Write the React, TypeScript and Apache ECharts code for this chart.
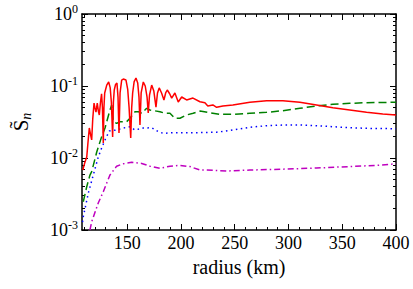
import React, { useEffect, useRef } from "react";
import * as echarts from "echarts";

// [radius (km), S_n]
const redData: [number, number][] = [
  [108.7, 0.0068], [110.5, 0.0085], [112.4, 0.0103], [113.5, 0.016], [114.8, 0.0261],
  [116.0, 0.021], [117.0, 0.0178], [118.0, 0.035], [119.2, 0.058], [120.0, 0.05],
  [121.0, 0.0435], [122.2, 0.058], [123.2, 0.045], [124.1, 0.0396], [125.2, 0.06],
  [126.2, 0.078], [127.0, 0.05], [127.8, 0.0162], [128.4, 0.05], [129.1, 0.080],
  [131.0, 0.103], [132.8, 0.1137], [134.2, 0.095], [135.3, 0.06], [136.5, 0.0196],
  [137.2, 0.06], [138.0, 0.088], [139.2, 0.105], [140.5, 0.110], [141.5, 0.07],
  [142.4, 0.0222], [143.4, 0.08], [144.9, 0.121], [146.4, 0.125], [148.9, 0.121],
  [150.5, 0.09], [151.8, 0.05], [153.3, 0.019], [154.2, 0.05], [155.1, 0.080],
  [156.5, 0.115], [158.2, 0.129], [159.8, 0.11], [161.0, 0.07], [161.9, 0.0287],
  [163.0, 0.08], [165.0, 0.1137], [166.8, 0.1], [168.5, 0.07], [169.6, 0.0422],
  [170.8, 0.075], [172.8, 0.103], [174.8, 0.085], [176.8, 0.051], [178.2, 0.08],
  [179.8, 0.094], [182.0, 0.08], [184.2, 0.064], [185.8, 0.08], [187.3, 0.088],
  [189.5, 0.078], [191.4, 0.068], [194.4, 0.080], [197.5, 0.060], [200.7, 0.0703],
  [205.3, 0.064], [211.2, 0.068], [217.7, 0.0605], [222.3, 0.0586], [225.0, 0.0528],
  [229.7, 0.0545], [233.2, 0.0506], [239.0, 0.0528], [248.3, 0.0545], [264.1, 0.0594],
  [279.7, 0.0625], [294.8, 0.0625], [310.6, 0.0594], [326.1, 0.0545], [341.3, 0.050],
  [357.0, 0.0464], [372.6, 0.0431], [387.7, 0.0409], [400, 0.0396],
];

const greenData: [number, number][] = [
  [109.2, 0.00247], [112.4, 0.00399], [115.4, 0.0058], [117.0, 0.00645], [121.7, 0.0121],
  [126.3, 0.0198], [129.4, 0.0261], [134.0, 0.0464], [135.6, 0.0545], [137.1, 0.0319],
  [140.2, 0.0303], [143.3, 0.0319], [149.5, 0.0319], [152.6, 0.0356], [157.3, 0.044],
  [160.3, 0.044], [163.5, 0.0418], [168.1, 0.049], [171.2, 0.0464], [180.5, 0.044],
  [185.1, 0.0418], [189.8, 0.0418], [194.4, 0.0356], [199.1, 0.0356], [205.3, 0.0396],
  [211.4, 0.0418], [217.7, 0.0448], [236.3, 0.0404], [248.3, 0.0404], [264.1, 0.0418],
  [279.7, 0.0431], [294.8, 0.0454], [310.6, 0.049], [326.1, 0.0528], [341.3, 0.0557],
  [357.0, 0.0575], [372.6, 0.0586], [400, 0.0594],
];

const blueData: [number, number][] = [
  [108.5, 0.00129], [109.2, 0.00153], [113.9, 0.00327], [118.5, 0.0058], [123.1, 0.0103],
  [126.3, 0.0138], [129.4, 0.0178], [133.4, 0.0237], [140.2, 0.0245], [146.4, 0.0261],
  [152.6, 0.0272], [157.3, 0.0245], [165.0, 0.0261], [172.8, 0.0263], [178.9, 0.0232],
  [183.6, 0.0220], [192.9, 0.0225], [205.3, 0.0225], [217.7, 0.0225], [233.2, 0.0228],
  [248.3, 0.0245], [264.1, 0.0267], [279.7, 0.0281], [294.8, 0.0287], [310.6, 0.0287],
  [326.1, 0.0281], [341.3, 0.0272], [357.0, 0.0264], [372.6, 0.0258], [400, 0.0255],
];

const magentaData: [number, number][] = [
  [115.4, 0.001], [117.0, 0.0013], [123.1, 0.00237], [127.8, 0.0034], [134.0, 0.0058],
  [140.2, 0.0077], [146.4, 0.0083], [154.2, 0.0087], [163.5, 0.0084], [171.2, 0.0077],
  [180.5, 0.0072], [189.8, 0.0077], [199.1, 0.0079], [208.4, 0.0076], [217.7, 0.0068],
  [223.9, 0.0068], [242.5, 0.0066], [264.1, 0.0068], [294.8, 0.0070], [326.1, 0.00726],
  [357.0, 0.0076], [381.8, 0.0079], [395.7, 0.0082], [400, 0.0083],
];

const xMajorTicks = [150, 200, 250, 300, 350, 400];
const xMinorTicks = [
  110, 120, 130, 140, 160, 170, 180, 190, 210, 220, 230, 240, 260, 270, 280, 290,
  310, 320, 330, 340, 360, 370, 380, 390,
];
const yMajorTicks = [0.001, 0.01, 0.1, 1];
const yMinorTicks = [
  0.002, 0.003, 0.004, 0.005, 0.006, 0.007, 0.008, 0.009,
  0.02, 0.03, 0.04, 0.05, 0.06, 0.07, 0.08, 0.09,
  0.2, 0.3, 0.4, 0.5, 0.6, 0.7, 0.8, 0.9,
];

const X_MIN = 108;
const X_MAX = 400;
const FONT = "Liberation Serif";

export default function App() {
  const ref = useRef<HTMLDivElement>(null);
  useEffect(() => {
    if (!ref.current) return;
    const chart = echarts.init(ref.current, undefined, { renderer: "svg" });
    const lineAxis = () => ({ show: true, lineStyle: { color: "#000", width: 1.5 } });
    const xBase = (position: "bottom" | "top", ticks: number[], len: number, showLine: boolean, labels: boolean, extra: any = {}) => ({
      type: "value",
      min: X_MIN,
      max: X_MAX,
      position,
      axisLine: showLine ? lineAxis() : { show: false },
      axisTick: { show: true, inside: true, length: len, customValues: ticks, lineStyle: { color: "#000", width: 1 } },
      axisLabel: labels
        ? { show: true, customValues: ticks, fontFamily: FONT, fontSize: 18, color: "#000", margin: 4 }
        : { show: false },
      splitLine: { show: false },
      ...extra,
    });
    const yBase = (position: "left" | "right", ticks: number[], len: number, showLine: boolean, labels: boolean, extra: any = {}) => ({
      type: "log",
      logBase: 10,
      min: 0.001,
      max: 1,
      position,
      axisLine: showLine ? lineAxis() : { show: false },
      axisTick: { show: true, inside: true, length: len, customValues: ticks, lineStyle: { color: "#000", width: 1 } },
      axisLabel: labels
        ? {
            show: true,
            customValues: ticks,
            margin: 4,
            fontFamily: FONT,
            fontSize: 18,
            color: "#000",
            formatter: (v: number) => `{b|10}{sup|${Math.round(Math.log10(v))}}`,
            rich: {
              b: { fontFamily: FONT, fontSize: 18, color: "#000", lineHeight: 22 },
              sup: { fontFamily: FONT, fontSize: 12, color: "#000", verticalAlign: "top", lineHeight: 13 },
            },
          }
        : { show: false },
      splitLine: { show: false },
      ...extra,
    });
    chart.setOption({
      animation: false,
      backgroundColor: "#fff",
      textStyle: { fontFamily: FONT },
      grid: { left: 82, right: 17, top: 14, bottom: 59, containLabel: false },
      xAxis: [
        xBase("bottom", xMajorTicks, 6, true, true, {
          name: "radius (km)",
          nameLocation: "middle",
          nameGap: 27,
          nameTextStyle: { fontFamily: FONT, fontSize: 20, color: "#000" },
        }),
        xBase("bottom", xMinorTicks, 3, false, false),
        xBase("top", xMajorTicks, 6, true, false),
        xBase("top", xMinorTicks, 3, false, false),
      ],
      yAxis: [
        yBase("left", yMajorTicks, 6, true, true, {
          name: "{s|S̃}{sub|n}",
          nameLocation: "middle",
          nameGap: 49,
          nameRotate: 90,
          nameTextStyle: {
            fontFamily: FONT,
            color: "#000",
            rich: {
              s: { fontFamily: FONT, fontSize: 21, color: "#000", lineHeight: 24 },
              sub: { fontFamily: FONT, fontSize: 14, fontStyle: "italic", color: "#000", verticalAlign: "bottom", lineHeight: 16 },
            },
          },
        }),
        yBase("left", yMinorTicks, 3, false, false),
        yBase("right", yMajorTicks, 6, true, false),
        yBase("right", yMinorTicks, 3, false, false),
      ],
      series: [
        {
          type: "line",
          data: magentaData,
          showSymbol: false,
          lineStyle: { color: "#bf00bf", width: 1.5, type: [6, 3, 1.5, 3] },
        },
        {
          type: "line",
          data: blueData,
          showSymbol: false,
          lineStyle: { color: "#0000ff", width: 1.5, type: [1.5, 3.5] },
        },
        {
          type: "line",
          data: greenData,
          showSymbol: false,
          lineStyle: { color: "#008000", width: 1.5, type: [8, 4] },
        },
        {
          type: "line",
          data: redData,
          showSymbol: false,
          lineStyle: { color: "#ff0000", width: 1.5 },
        },
      ],
    });
    return () => chart.dispose();
  }, []);
  return <div ref={ref} style={{ width: 413, height: 289, position: "absolute", left: 0, top: 0 }} />;
}
